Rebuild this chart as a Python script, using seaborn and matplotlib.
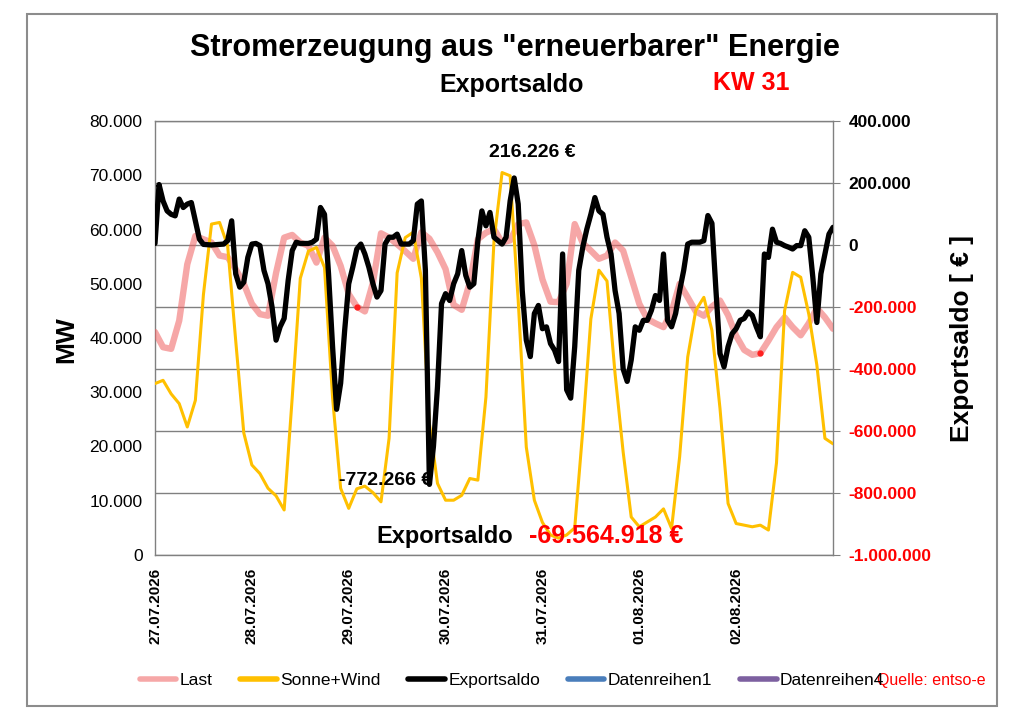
import numpy as np
import pandas as pd
import seaborn as sns
import matplotlib.pyplot as plt
from matplotlib.patches import Rectangle

sns.set_style("white")
plt.rcParams['font.family'] = ['Liberation Sans', 'DejaVu Sans']
plt.rcParams['text.color'] = 'black'
plt.rcParams['axes.labelcolor'] = 'black'
plt.rcParams['xtick.color'] = 'black'
plt.rcParams['ytick.color'] = 'black'

# Last [MW], alle 2 Stunden ab 27.07.2026 00:00
last = [41100, 38300, 38000, 43200, 53600, 58800, 58200, 57600, 55200, 54900, 52700, 50000,
        46300, 44400, 44100, 52000, 58500, 59000, 57600, 57000, 53900, 58500, 57000, 53300,
        48100, 45800, 44900, 50200, 59300, 58500, 57300, 56000, 54600, 59500, 58300, 55800,
        52700, 46100, 45200, 50200, 58200, 59400, 60100, 57600, 58000, 61000, 61300, 57100,
        50800, 46700, 46600, 50000, 61000, 57500, 56100, 54600, 55200, 57600, 56100, 51200,
        46300, 43500, 42700, 42000, 44800, 50000, 47500, 44900, 44100, 45800, 46900, 44200,
        40400, 37800, 36900, 37200, 39500, 42000, 43800, 42000, 40500, 42700, 45500, 43800,
        41700]

# Sonne+Wind [MW], alle 2 Stunden
sonne_wind = [31600, 32200, 29700, 27900, 23600, 28500, 48000, 61000, 61300, 57000, 39500, 22500,
              16600, 15000, 12300, 10900, 8300, 29000, 51000, 56000, 56700, 53000, 29000, 12300,
              8600, 12200, 12700, 11500, 9800, 21500, 52000, 58500, 59500, 51000, 24200, 13200,
              10100, 10100, 11000, 14100, 13800, 29100, 57900, 70500, 69900, 46900, 19900, 10100,
              6000, 3700, 3100, 3700, 5000, 23000, 43500, 52500, 50500, 33400, 19000, 7000,
              5200, 6100, 7000, 8500, 4900, 18100, 36500, 45100, 47500, 41400, 27000, 9500,
              5800, 5500, 5200, 5500, 4600, 17000, 45000, 52100, 51200, 44400, 35000, 21500,
              20500]

# Exportsaldo [EUR], stuendlich
exportsaldo = [5000, 195000, 142000, 110000, 99000, 94000, 148000, 121000, 132000, 137000, 78000, 19000,
               2000, 1000, 0, 1000, 2000, 3000, 14000, 78000, -93000, -136000, -120000, -40000,
               3000, 5000, -2000, -82000, -125000, -200000, -307000, -264000, -237000, -114000, -18000, 9000,
               5000, 5000, 5000, 9000, 19000, 121000, 99000, -93000, -328000, -530000, -446000, -275000,
               -125000, -72000, -13000, 3000, -29000, -72000, -125000, -168000, -147000, 3000, 25000, 25000,
               35000, 3000, 3000, 3000, 14000, 132000, 142000, -82000, -772266, -649000, -457000, -189000,
               -157000, -179000, -125000, -93000, -18000, -98000, -136000, -125000, 14000, 110000, 62000, 105000,
               25000, 14000, 3000, 25000, 142000, 216226, 132000, -147000, -307000, -360000, -221000, -195000,
               -270000, -264000, -318000, -339000, -376000, -29000, -467000, -494000, -328000, -82000, -7000, 51000,
               99000, 153000, 110000, 99000, 25000, -29000, -147000, -221000, -400000, -440000, -371000, -264000,
               -275000, -243000, -243000, -211000, -163000, -179000, -29000, -243000, -264000, -221000, -147000, -82000,
               3000, 9000, 9000, 9000, 14000, 95000, 70000, -147000, -350000, -393000, -328000, -286000,
               -270000, -243000, -237000, -216000, -227000, -264000, -296000, -29000, -40000, 51000, 9000, 5000,
               -2000, -7000, -13000, -2000, -2000, 46000, 25000, -104000, -250000, -93000, -29000, 35000,
               57000]

datenreihen1 = []
datenreihen4 = []
last_punkte = [25, 75]   # rot markierte Werte der Last

tage = ["27.07.2026", "28.07.2026", "29.07.2026", "30.07.2026",
        "31.07.2026", "01.08.2026", "02.08.2026"]
mw_ticks = list(range(0, 80001, 10000))
eur_ticks = list(range(-1000000, 400001, 200000))
summe_text = "-69.564.918 €"


def de(v):
    return f"{v:,.0f}".replace(",", ".")


t_last = pd.date_range("2026-07-27", periods=len(last), freq="2h")
t_sw = pd.date_range("2026-07-27", periods=len(sonne_wind), freq="2h")
t_exp = pd.date_range("2026-07-27", periods=len(exportsaldo), freq="h")
t_tage = pd.to_datetime(tage, format="%d.%m.%Y")

fig = plt.figure(figsize=(10.24, 7.24), dpi=100)
ax_e = fig.add_axes([155 / 1024, 1 - 555 / 724, 678 / 1024, 434 / 724])
ax = ax_e.twinx()
ax_b = ax_e.twinx()

# Last und Sonne+Wind (linke Achse)
sns.lineplot(x=t_last, y=last, ax=ax, color='#F06060', alpha=0.55, lw=4.6,
             solid_capstyle='round', label='Last', legend=False)
sns.lineplot(x=t_sw, y=sonne_wind, ax=ax, color='#FFC000', lw=2.2,
             label='Sonne+Wind', legend=False)
ax.plot(t_last[last_punkte], np.array(last)[last_punkte], 'o', color='#FF2020', ms=3.5, zorder=3)

# Exportsaldo (rechte Achse)
sns.lineplot(x=t_exp, y=exportsaldo, ax=ax_b, color='black', lw=3.8,
             label='Exportsaldo', legend=False)
h_d1, = ax_b.plot(t_exp[:len(datenreihen1)], datenreihen1, color='#4A7EBB', lw=3, label='Datenreihen1')
h_d4, = ax_b.plot(t_exp[:len(datenreihen4)], datenreihen4, color='#7D60A0', lw=3, label='Datenreihen4')

ax.set_ylim(0, 80000)
ax_e.set_ylim(-1000000, 400000)
ax_b.set_ylim(-1000000, 400000)
ax_e.set_xlim(t_exp[0], t_exp[-1])

# x-Achse
ax_e.set_xticks(t_tage)
ax_e.set_xticklabels(tage, rotation=90, fontsize=11, fontweight='bold')
ax_e.tick_params(axis='x', length=4, color='#808080', pad=5)
ax_e.set_xlabel('')
ax_e.grid(axis='y', color='#808080', lw=1)
ax_e.grid(axis='x', visible=False)
for s in ax_e.spines.values():
    s.set_color('#808080')
    s.set_linewidth(1)

# rechte Achse (Euro)
ax_e.yaxis.tick_right()
ax_e.set_yticks(eur_ticks, labels=[de(v) for v in eur_ticks])
ax_e.tick_params(axis='y', right=True, left=False, length=5, color='#808080',
                 pad=6, labelsize=12.5)
for v, lab in zip(eur_ticks, ax_e.get_yticklabels()):
    lab.set_fontweight('bold')
    lab.set_color('red' if v < 0 else 'black')

# linke Achse (MW)
ax.yaxis.tick_left()
ax.set_yticks(mw_ticks, labels=[de(v) for v in mw_ticks])
ax.tick_params(axis='y', left=True, right=False, length=0, pad=9, labelsize=12.5)
ax.set_ylabel('')
for s in ax.spines.values():
    s.set_visible(False)
ax_b.set_axis_off()

# Beschriftungen Max/Min
i_max = int(np.argmax(exportsaldo))
i_min = int(np.argmin(exportsaldo))
ax_b.annotate(de(exportsaldo[i_max]) + " €", xy=(t_exp[i_max], exportsaldo[i_max]),
              xytext=(13, 18), textcoords='offset points', ha='center', va='center',
              fontsize=14, fontweight='bold')
ax_b.annotate(de(exportsaldo[i_min]) + " €", xy=(t_exp[i_min], exportsaldo[i_min]),
              xytext=(2, 3), textcoords='offset points', ha='right', va='center',
              fontsize=14, fontweight='bold')

fig.text(445 / 1024, 1 - 536 / 724, "Exportsaldo", ha='center', va='center',
         fontsize=17, fontweight='bold')
fig.text(606 / 1024, 1 - 536 / 724, summe_text, ha='center', va='center',
         fontsize=18, fontweight='bold', color='red')

# Titel
fig.text(515 / 1024, 1 - 48 / 724, 'Stromerzeugung aus "erneuerbarer" Energie',
         ha='center', va='center', fontsize=22, fontweight='bold')
fig.text(512 / 1024, 1 - 85 / 724, "Exportsaldo", ha='center', va='center',
         fontsize=18, fontweight='bold')
fig.text(751 / 1024, 1 - 83 / 724, "KW 31", ha='center', va='center',
         fontsize=18, fontweight='bold', color='red')

fig.text(66 / 1024, 1 - 340 / 724, "MW", rotation=90, ha='center', va='center',
         fontsize=19, fontweight='bold')
fig.text(962 / 1024, 1 - 339 / 724, "Exportsaldo [ € ]", rotation=90, ha='center',
         va='center', fontsize=19, fontweight='bold')

# Legende
handles = ax.get_lines()[:2] + ax_b.get_lines()[:1] + [h_d1, h_d4]
labels = ['Last', 'Sonne+Wind', 'Exportsaldo', 'Datenreihen1', 'Datenreihen4']
leg = fig.legend(handles, labels, loc='center', bbox_to_anchor=(512 / 1024, 1 - 680 / 724),
                 ncol=5, frameon=False, fontsize=12.5, handlelength=2.1,
                 handletextpad=0.2, columnspacing=1.6)
for lh in leg.get_lines():
    lh.set_linewidth(4)
fig.text(877 / 1024, 1 - 680 / 724, "Quelle: entso-e", ha='left', va='center',
         fontsize=11.5, color='red')

fig.add_artist(Rectangle((27 / 1024, 1 - 706 / 724), 970 / 1024, 692 / 724,
                         transform=fig.transFigure, fill=False,
                         edgecolor='#8c8c8c', lw=1.5))

fig.savefig("out.png", dpi=100)
